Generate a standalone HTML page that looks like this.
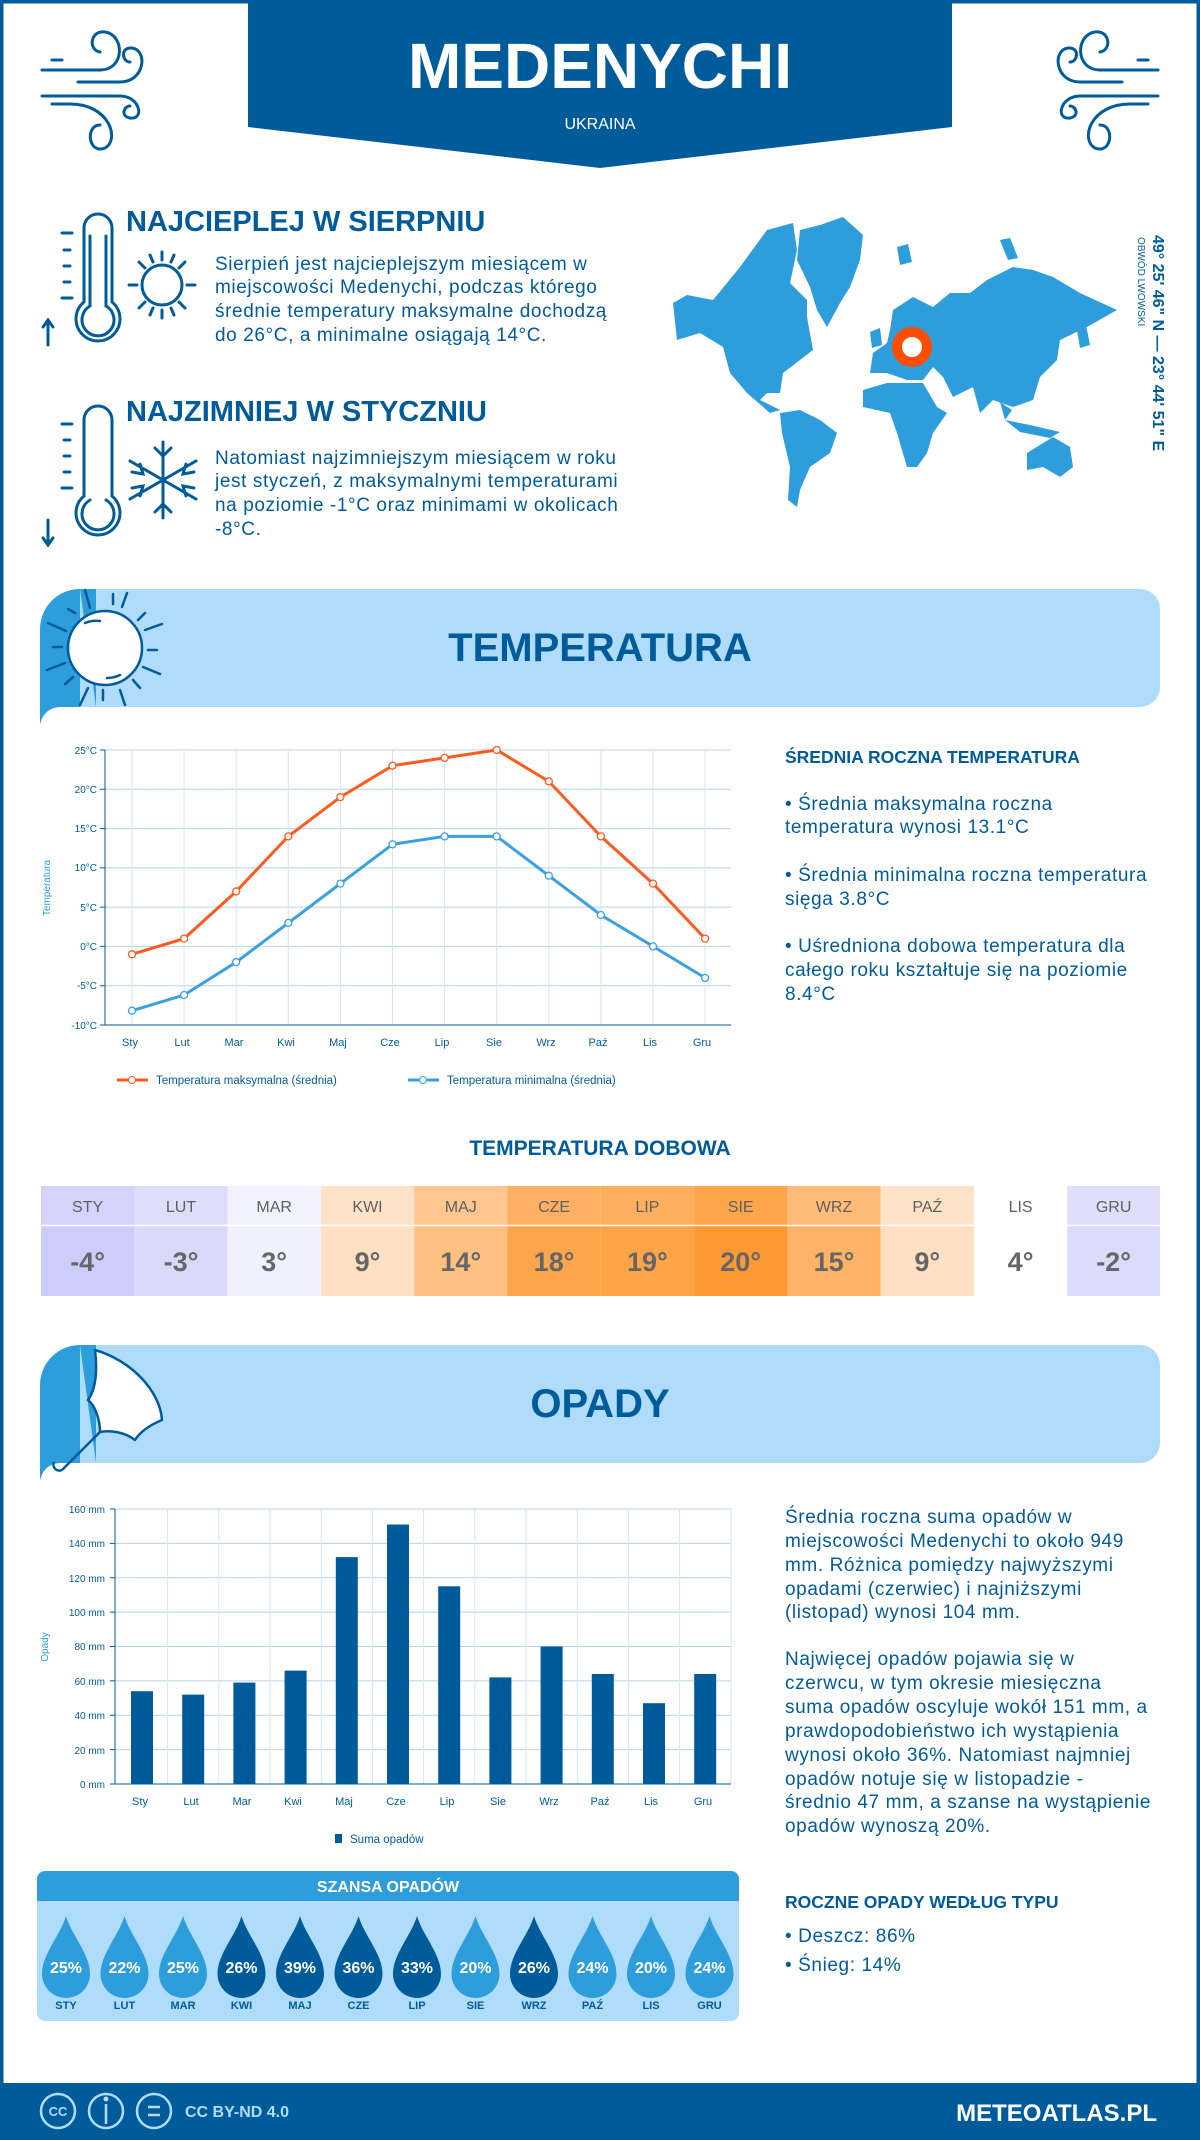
<!DOCTYPE html>
<html><head><meta charset="utf-8"><style>
html,body{margin:0;padding:0;background:#fff}
svg{display:block}
text{font-family:"Liberation Sans",sans-serif}
.p{font-size:19px;letter-spacing:0.6px}
</style></head><body>
<svg width="1200" height="2140" viewBox="0 0 1200 2140" xmlns="http://www.w3.org/2000/svg">
<rect x="1.5" y="1.5" width="1197" height="2137" fill="#fff" stroke="#005B9A" stroke-width="4"/>
<!-- header -->
<polygon points="248,0 952,0 952,127 600,168 248,127" fill="#005B9A"/>
<text x="600" y="88" text-anchor="middle" font-size="64" font-weight="bold" fill="#fff">MEDENYCHI</text>
<text x="600" y="129" text-anchor="middle" font-size="16" fill="#fff">UKRAINA</text>
<!-- wind icons -->
<g fill="none" stroke="#005B9A" stroke-width="3" stroke-linecap="round">
<g id="w">
<path d="M42,70 H100 M52,60 H62 M78,82 H120 M42,96 H120 M52,104 H70"/>
<path d="M100,70 C125,70 125,35 105,32 C90,30 88,50 100,52"/>
<path d="M120,82 C145,82 148,50 132,48 C120,47 122,62 130,62"/>
<path d="M120,96 C140,96 145,120 130,118 C120,116 124,106 130,106"/>
<path d="M70,104 C110,104 120,140 105,148 C88,155 85,125 100,125"/>
</g>
<use href="#w" transform="translate(1200,0) scale(-1,1)"/>
</g>
<!-- thermometers -->
<g fill="none" stroke="#005B9A" stroke-width="3" stroke-linecap="round">
<path d="M84,228 V302 A22,22 0 1 0 112,302 V228 A14,14 0 0 0 84,228 Z"/>
<path d="M90,236 V306 A16,16 0 1 0 106,306 V236"/>
<path d="M62,233 H72 M64,250 H70 M64,266 H70 M64,282 H70 M62,298 H72"/>
<path d="M48,345 V320 M43,327 L48,320 L53,327"/>
<circle cx="162" cy="285" r="20"/>
<path d="M162,252 V260 M162,310 V318 M129,285 H137 M187,285 H195 M139,262 L145,268 M185,262 L179,268 M139,308 L145,302 M185,308 L179,302 M150,255 L153,262 M174,255 L171,262 M150,315 L153,308 M174,315 L171,308"/>
<path d="M84,420 V496 A22,22 0 1 0 112,496 V420 A14,14 0 0 0 84,420 Z"/>
<path d="M90,500 A16,16 0 1 0 106,500"/>
<path d="M62,424 H72 M64,440 H70 M64,456 H70 M64,472 H70 M62,488 H72"/>
<path d="M48,520 V545 M43,538 L48,545 L53,538"/>
<path d="M163,442 V518 M130,461 L196,499 M130,499 L196,461 M155,448 L163,456 L171,448 M155,512 L163,504 L171,512 M132,472 L143,474 L140,464 M194,488 L183,486 L186,496 M132,488 L143,486 L140,496 M194,472 L183,474 L186,464"/>
</g>
<text x="126" y="231" font-size="29" font-weight="bold" fill="#005B9A">NAJCIEPLEJ W SIERPNIU</text>
<g class="p" fill="#005B9A">
<text x="215" y="270">Sierpień jest najcieplejszym miesiącem w</text>
<text x="215" y="293">miejscowości Medenychi, podczas którego</text>
<text x="215" y="317">średnie temperatury maksymalne dochodzą</text>
<text x="215" y="341">do 26°C, a minimalne osiągają 14°C.</text>
</g>
<text x="126" y="421" font-size="29" font-weight="bold" fill="#005B9A">NAJZIMNIEJ W STYCZNIU</text>
<g class="p" fill="#005B9A">
<text x="215" y="464">Natomiast najzimniejszym miesiącem w roku</text>
<text x="215" y="487">jest styczeń, z maksymalnymi temperaturami</text>
<text x="215" y="511">na poziomie -1°C oraz minimami w okolicach</text>
<text x="215" y="535">-8°C.</text>
</g>
<!-- map -->
<g fill="#2E9DDB">
<path d="M800,230 L820,225 L843,217 L863,235 L860,260 L850,287 L840,303 L827,327 L817,310 L810,287 L797,260 Z"/>
<path d="M673,303 L687,295 L713,300 L727,283 L740,267 L767,230 L793,223 L797,250 L790,283 L807,300 L807,317 L813,350 L800,360 L783,373 L780,393 L767,393 L760,400 L780,410 L770,413 L747,393 L730,373 L723,347 L700,333 L677,340 Z"/>
<path d="M780,413 L800,410 L820,420 L837,433 L830,453 L810,467 L800,490 L797,507 L788,500 L790,467 L782,433 Z"/>
<path d="M890,330 L893,310 L913,297 L933,307 L950,293 L970,293 L987,280 L1013,267 L1033,270 L1053,277 L1080,293 L1117,310 L1087,327 L1060,340 L1057,360 L1040,377 L1033,400 L1013,407 L993,400 L980,413 L973,387 L953,397 L943,377 L933,367 L923,380 L907,380 L887,373 L870,373 L873,353 L887,343 Z"/>
<path d="M863,390 L887,383 L923,383 L937,407 L947,413 L933,433 L927,453 L917,467 L907,467 L897,433 L890,413 L863,407 Z"/>
<path d="M1027,453 L1053,437 L1070,447 L1073,467 L1060,477 L1043,467 L1027,470 Z"/>
<path d="M1005,420 L1030,425 L1060,432 L1050,438 L1020,432 Z"/>
<path d="M1000,402 L1012,410 L1005,420 Z"/>
<path d="M870,332 L880,328 L882,345 L872,348 Z"/>
<path d="M897,247 L908,244 L912,262 L900,265 Z"/>
<path d="M1000,240 L1010,238 L1018,258 L1008,260 Z"/>
<path d="M1077,330 L1085,320 L1090,345 L1080,348 Z"/>
</g>
<circle cx="912" cy="347" r="15" fill="#fff" stroke="#FF4D00" stroke-width="10"/>
<text transform="translate(1153,235) rotate(90)" font-size="16" font-weight="bold" fill="#005B9A">49° 25' 46" N — 23° 44' 51" E</text>
<text transform="translate(1138,237) rotate(90)" font-size="10" fill="#005B9A">OBWÓD LWOWSKI</text>
<!-- temp banner -->
<path d="M80,589 H1140 A20,20 0 0 1 1160,609 V687 A20,20 0 0 1 1140,707 H80 Z" fill="#B0DCFC"/>
<path d="M80,589 H96 V707 H80 Z M80,589 A40,40 0 0 0 40,629 V724 L96,724 V707 Z" fill="#2E9DDB"/>
<path d="M96,707 H60 A20,20 0 0 0 40,727 V740 H96 Z" fill="#fff"/>
<path d="M40,724 A20,20 0 0 1 60,707 H40 Z" fill="#2E9DDB"/>
<g stroke="#005B9A" stroke-width="2.5" fill="none" stroke-linecap="round">
<circle cx="105" cy="648" r="37" fill="#fff"/>
<path d="M85,623 A30,30 0 0 1 100,621 M120,675 A30,30 0 0 1 107,678"/>
<path d="M85,590 L90,608 M113,594 V604 M127,593 L122,607 M145,613 L138,620 M145,630 L162,624 M148,650 H157 M143,667 L160,674 M133,680 L140,688 M120,690 L125,705 M103,690 V700 M88,688 L80,705 M73,677 L65,684 M65,663 L47,670 M62,647 H53 M66,631 L48,623 M75,613 L68,609"/>
</g>
<text x="600" y="661" text-anchor="middle" font-size="40" font-weight="bold" fill="#005B9A">TEMPERATURA</text>
<!-- temp chart -->
<g stroke="#B7D3E8" stroke-width="1">
<path d="M105,750 H731 M105,789.3 H731 M105,828.6 H731 M105,867.9 H731 M105,907.1 H731 M105,946.4 H731 M105,985.7 H731"/>
<path d="M132,750 V1025 M184.1,750 V1025 M236.2,750 V1025 M288.3,750 V1025 M340.4,750 V1025 M392.5,750 V1025 M444.6,750 V1025 M496.7,750 V1025 M548.8,750 V1025 M600.9,750 V1025 M653,750 V1025 M705.1,750 V1025" stroke="#D5E6F2"/>
</g>
<path d="M105,1025 H731 M105,750 V1025" stroke="#005B9A" stroke-width="1" fill="none"/>
<path d="M100,750 H105 M100,789.3 H105 M100,828.6 H105 M100,867.9 H105 M100,907.1 H105 M100,946.4 H105 M100,985.7 H105 M100,1025 H105" stroke="#005B9A"/>
<g font-size="10" fill="#005B9A" text-anchor="end">
<text x="97" y="754">25°C</text><text x="97" y="793">20°C</text><text x="97" y="832">15°C</text><text x="97" y="871">10°C</text><text x="97" y="911">5°C</text><text x="97" y="950">0°C</text><text x="97" y="989">-5°C</text><text x="97" y="1029">-10°C</text>
</g>
<text transform="translate(50,888) rotate(-90)" text-anchor="middle" font-size="10" fill="#2E9DDB">Temperatura</text>
<g font-size="11" fill="#005B9A" text-anchor="middle">
<text x="130" y="1046">Sty</text><text x="182" y="1046">Lut</text><text x="234" y="1046">Mar</text><text x="286" y="1046">Kwi</text><text x="338" y="1046">Maj</text><text x="390" y="1046">Cze</text><text x="442" y="1046">Lip</text><text x="494" y="1046">Sie</text><text x="546" y="1046">Wrz</text><text x="598" y="1046">Paź</text><text x="650" y="1046">Lis</text><text x="702" y="1046">Gru</text>
</g>
<polyline points="132,954.3 184.1,938.6 236.2,891.4 288.3,836.4 340.4,797.1 392.5,765.7 444.6,757.9 496.7,750 548.8,781.4 600.9,836.4 653,883.6 705.1,938.6" fill="none" stroke="#FF5A1F" stroke-width="3"/>
<polyline points="132,1010.7 184.1,995 236.2,962.1 288.3,922.9 340.4,883.6 392.5,844.3 444.6,836.4 496.7,836.4 548.8,875.7 600.9,915 653,946.4 705.1,977.9" fill="none" stroke="#3AA0E0" stroke-width="3"/>
<g fill="#fff" stroke="#FF5A1F" stroke-width="1.3">
<circle cx="132" cy="954.3" r="3.5"/><circle cx="184.1" cy="938.6" r="3.5"/><circle cx="236.2" cy="891.4" r="3.5"/><circle cx="288.3" cy="836.4" r="3.5"/><circle cx="340.4" cy="797.1" r="3.5"/><circle cx="392.5" cy="765.7" r="3.5"/><circle cx="444.6" cy="757.9" r="3.5"/><circle cx="496.7" cy="750" r="3.5"/><circle cx="548.8" cy="781.4" r="3.5"/><circle cx="600.9" cy="836.4" r="3.5"/><circle cx="653" cy="883.6" r="3.5"/><circle cx="705.1" cy="938.6" r="3.5"/>
</g>
<g fill="#fff" stroke="#3AA0E0" stroke-width="1.3">
<circle cx="132" cy="1010.7" r="3.5"/><circle cx="184.1" cy="995" r="3.5"/><circle cx="236.2" cy="962.1" r="3.5"/><circle cx="288.3" cy="922.9" r="3.5"/><circle cx="340.4" cy="883.6" r="3.5"/><circle cx="392.5" cy="844.3" r="3.5"/><circle cx="444.6" cy="836.4" r="3.5"/><circle cx="496.7" cy="836.4" r="3.5"/><circle cx="548.8" cy="875.7" r="3.5"/><circle cx="600.9" cy="915" r="3.5"/><circle cx="653" cy="946.4" r="3.5"/><circle cx="705.1" cy="977.9" r="3.5"/>
</g>
<path d="M117,1080 H148" stroke="#FF5A1F" stroke-width="3"/><circle cx="132" cy="1080" r="3.5" fill="#fff" stroke="#FF5A1F"/>
<text x="156" y="1084" font-size="11.5" fill="#005B9A">Temperatura maksymalna (średnia)</text>
<path d="M408,1080 H439" stroke="#3AA0E0" stroke-width="3"/><circle cx="423" cy="1080" r="3.5" fill="#fff" stroke="#3AA0E0"/>
<text x="447" y="1084" font-size="11.5" fill="#005B9A">Temperatura minimalna (średnia)</text>
<text x="785" y="763" font-size="17.5" font-weight="bold" fill="#005B9A">ŚREDNIA ROCZNA TEMPERATURA</text>
<g class="p" fill="#005B9A">
<text x="785" y="810">• Średnia maksymalna roczna</text>
<text x="785" y="833">temperatura wynosi 13.1°C</text>
<text x="785" y="881">• Średnia minimalna roczna temperatura</text>
<text x="785" y="905">sięga 3.8°C</text>
<text x="785" y="952">• Uśredniona dobowa temperatura dla</text>
<text x="785" y="976">całego roku kształtuje się na poziomie</text>
<text x="785" y="1000">8.4°C</text>
</g>
<text x="600" y="1155" text-anchor="middle" font-size="21" font-weight="bold" fill="#005B9A">TEMPERATURA DOBOWA</text>
<!-- daily table -->
<g>
<rect x="41" y="1186" width="93.3" height="110" fill="#CDCDFB"/>
<rect x="134.3" y="1186" width="93.3" height="110" fill="#D9D9FC"/>
<rect x="227.6" y="1186" width="93.3" height="110" fill="#F1F1FE"/>
<rect x="320.9" y="1186" width="93.3" height="110" fill="#FFE0C2"/>
<rect x="414.2" y="1186" width="93.3" height="110" fill="#FFC080"/>
<rect x="507.5" y="1186" width="93.3" height="110" fill="#FFA64D"/>
<rect x="600.8" y="1186" width="93.3" height="110" fill="#FFA447"/>
<rect x="694.1" y="1186" width="93.3" height="110" fill="#FF9933"/>
<rect x="787.4" y="1186" width="93.3" height="110" fill="#FFB366"/>
<rect x="880.7" y="1186" width="93.3" height="110" fill="#FFE0C2"/>
<rect x="974" y="1186" width="93.3" height="110" fill="#FFFFFF"/>
<rect x="1067.3" y="1186" width="92.7" height="110" fill="#DBDBFC"/>
<rect x="41" y="1186" width="1119" height="39" fill="#fff" opacity="0.12"/>
<path d="M41,1225.5 H1160" stroke="#fff" stroke-width="1.5"/>
</g>
<g font-size="16" fill="#5f5f5f" text-anchor="middle">
<text x="87.6" y="1212">STY</text><text x="181" y="1212">LUT</text><text x="274.2" y="1212">MAR</text><text x="367.5" y="1212">KWI</text><text x="460.8" y="1212">MAJ</text><text x="554.1" y="1212">CZE</text><text x="647.4" y="1212">LIP</text><text x="740.7" y="1212">SIE</text><text x="834" y="1212">WRZ</text><text x="927.3" y="1212">PAŹ</text><text x="1020.6" y="1212">LIS</text><text x="1113.6" y="1212">GRU</text>
</g>
<g font-size="27" font-weight="bold" fill="#666" text-anchor="middle">
<text x="87.6" y="1271">-4°</text><text x="181" y="1271">-3°</text><text x="274.2" y="1271">3°</text><text x="367.5" y="1271">9°</text><text x="460.8" y="1271">14°</text><text x="554.1" y="1271">18°</text><text x="647.4" y="1271">19°</text><text x="740.7" y="1271">20°</text><text x="834" y="1271">15°</text><text x="927.3" y="1271">9°</text><text x="1020.6" y="1271">4°</text><text x="1113.6" y="1271">-2°</text>
</g>
<!-- opady banner -->
<path d="M80,1345 H1140 A20,20 0 0 1 1160,1365 V1443 A20,20 0 0 1 1140,1463 H80 Z" fill="#B0DCFC"/>
<path d="M80,1345 H96 V1463 H80 Z M80,1345 A40,40 0 0 0 40,1385 V1480 L96,1480 V1463 Z" fill="#2E9DDB"/>
<path d="M96,1463 H60 A20,20 0 0 0 40,1483 V1496 H96 Z" fill="#fff"/>
<path d="M40,1480 A20,20 0 0 1 60,1463 H40 Z" fill="#2E9DDB"/>
<g stroke="#005B9A" stroke-width="2.5" fill="#fff" stroke-linejoin="round">
<path d="M95,1350 C130,1360 160,1390 162,1420 C150,1425 140,1432 135,1440 C125,1432 110,1430 100,1432 C100,1420 95,1405 88,1400 C95,1390 98,1375 95,1350 Z"/>
<path d="M100,1432 L62,1470 M62,1470 A6,6 0 0 1 54,1462" fill="none"/>
</g>
<text x="600" y="1417" text-anchor="middle" font-size="40" font-weight="bold" fill="#005B9A">OPADY</text>
<!-- precip chart -->
<g stroke="#B7D3E8" stroke-width="1">
<path d="M115,1509 H731 M115,1543.4 H731 M115,1577.8 H731 M115,1612.1 H731 M115,1646.5 H731 M115,1680.9 H731 M115,1715.3 H731 M115,1749.6 H731"/>
<path d="M167.6,1509 V1784 M218.8,1509 V1784 M270,1509 V1784 M321.2,1509 V1784 M372.4,1509 V1784 M423.6,1509 V1784 M474.8,1509 V1784 M526,1509 V1784 M577.2,1509 V1784 M628.4,1509 V1784 M679.6,1509 V1784 M731,1509 V1784" stroke="#D5E6F2"/>
</g>
<path d="M115,1784 H731 M115,1509 V1784" stroke="#005B9A" fill="none"/>
<path d="M110,1509 H115 M110,1543.4 H115 M110,1577.8 H115 M110,1612.1 H115 M110,1646.5 H115 M110,1680.9 H115 M110,1715.3 H115 M110,1749.6 H115 M110,1784 H115" stroke="#005B9A"/>
<g font-size="10" fill="#005B9A" text-anchor="end">
<text x="105" y="1513">160 mm</text><text x="105" y="1547">140 mm</text><text x="105" y="1582">120 mm</text><text x="105" y="1616">100 mm</text><text x="105" y="1650">80 mm</text><text x="105" y="1685">60 mm</text><text x="105" y="1719">40 mm</text><text x="105" y="1754">20 mm</text><text x="105" y="1788">0 mm</text>
</g>
<text transform="translate(48,1647) rotate(-90)" text-anchor="middle" font-size="10" fill="#2E9DDB">Opady</text>
<g fill="#005B9A">
<rect x="131" y="1691.2" width="22" height="92.8"/><rect x="182.2" y="1694.6" width="22" height="89.4"/><rect x="233.4" y="1682.6" width="22" height="101.4"/><rect x="284.6" y="1670.6" width="22" height="113.4"/><rect x="335.8" y="1557.1" width="22" height="226.9"/><rect x="387" y="1524.5" width="22" height="259.5"/><rect x="438.2" y="1586.3" width="22" height="197.7"/><rect x="489.4" y="1677.4" width="22" height="106.6"/><rect x="540.6" y="1646.5" width="22" height="137.5"/><rect x="591.8" y="1674" width="22" height="110"/><rect x="643" y="1703.2" width="22" height="80.8"/><rect x="694.2" y="1674" width="22" height="110"/>
</g>
<g font-size="11" fill="#005B9A" text-anchor="middle">
<text x="140" y="1805">Sty</text><text x="191" y="1805">Lut</text><text x="242" y="1805">Mar</text><text x="293" y="1805">Kwi</text><text x="344" y="1805">Maj</text><text x="396" y="1805">Cze</text><text x="447" y="1805">Lip</text><text x="498" y="1805">Sie</text><text x="549" y="1805">Wrz</text><text x="600" y="1805">Paź</text><text x="651" y="1805">Lis</text><text x="703" y="1805">Gru</text>
</g>
<rect x="335" y="1834" width="7" height="9" fill="#005B9A"/>
<text x="350" y="1843" font-size="11.5" fill="#005B9A">Suma opadów</text>
<g class="p" fill="#005B9A">
<text x="785" y="1523">Średnia roczna suma opadów w</text>
<text x="785" y="1547">miejscowości Medenychi to około 949</text>
<text x="785" y="1571">mm. Różnica pomiędzy najwyższymi</text>
<text x="785" y="1595">opadami (czerwiec) i najniższymi</text>
<text x="785" y="1618">(listopad) wynosi 104 mm.</text>
<text x="785" y="1665">Najwięcej opadów pojawia się w</text>
<text x="785" y="1689">czerwcu, w tym okresie miesięczna</text>
<text x="785" y="1713">suma opadów oscyluje wokół 151 mm, a</text>
<text x="785" y="1737">prawdopodobieństwo ich wystąpienia</text>
<text x="785" y="1761">wynosi około 36%. Natomiast najmniej</text>
<text x="785" y="1785">opadów notuje się w listopadzie -</text>
<text x="785" y="1808">średnio 47 mm, a szanse na wystąpienie</text>
<text x="785" y="1832">opadów wynoszą 20%.</text>
</g>
<!-- szansa -->
<rect x="37" y="1871" width="702" height="150" rx="8" fill="#B0DCFC"/>
<path d="M45,1871 H731 A8,8 0 0 1 739,1879 V1901 H37 V1879 A8,8 0 0 1 45,1871 Z" fill="#2E9DDB"/>
<text x="388" y="1892" text-anchor="middle" font-size="16" font-weight="bold" fill="#fff">SZANSA OPADÓW</text>
<defs><path id="d" d="M0,-50 C6,-30 24,-12 24,8 A24,24 0 0 1 -24,8 C-24,-12 -6,-30 0,-50 Z"/></defs>
<g>
<use href="#d" x="66" y="1966" fill="#2E9DDB"/><use href="#d" x="124.5" y="1966" fill="#2E9DDB"/><use href="#d" x="183" y="1966" fill="#2E9DDB"/><use href="#d" x="241.5" y="1966" fill="#005B9A"/><use href="#d" x="300" y="1966" fill="#005B9A"/><use href="#d" x="358.5" y="1966" fill="#005B9A"/><use href="#d" x="417" y="1966" fill="#005B9A"/><use href="#d" x="475.5" y="1966" fill="#2E9DDB"/><use href="#d" x="534" y="1966" fill="#005B9A"/><use href="#d" x="592.5" y="1966" fill="#2E9DDB"/><use href="#d" x="651" y="1966" fill="#2E9DDB"/><use href="#d" x="709.5" y="1966" fill="#2E9DDB"/>
</g>
<g font-size="16" font-weight="bold" fill="#fff" text-anchor="middle">
<text x="66" y="1973">25%</text><text x="124.5" y="1973">22%</text><text x="183" y="1973">25%</text><text x="241.5" y="1973">26%</text><text x="300" y="1973">39%</text><text x="358.5" y="1973">36%</text><text x="417" y="1973">33%</text><text x="475.5" y="1973">20%</text><text x="534" y="1973">26%</text><text x="592.5" y="1973">24%</text><text x="651" y="1973">20%</text><text x="709.5" y="1973">24%</text>
</g>
<g font-size="11" font-weight="bold" fill="#005B9A" text-anchor="middle">
<text x="66" y="2009">STY</text><text x="124.5" y="2009">LUT</text><text x="183" y="2009">MAR</text><text x="241.5" y="2009">KWI</text><text x="300" y="2009">MAJ</text><text x="358.5" y="2009">CZE</text><text x="417" y="2009">LIP</text><text x="475.5" y="2009">SIE</text><text x="534" y="2009">WRZ</text><text x="592.5" y="2009">PAŹ</text><text x="651" y="2009">LIS</text><text x="709.5" y="2009">GRU</text>
</g>
<text x="785" y="1908" font-size="17.5" font-weight="bold" fill="#005B9A">ROCZNE OPADY WEDŁUG TYPU</text>
<text x="785" y="1942" class="p" fill="#005B9A">• Deszcz: 86%</text>
<text x="785" y="1971" class="p" fill="#005B9A">• Śnieg: 14%</text>
<!-- footer -->
<rect x="0" y="2083" width="1200" height="57" fill="#005B9A"/>
<g fill="none" stroke="#B0DCFC" stroke-width="2.5">
<circle cx="58" cy="2111" r="17"/><circle cx="106" cy="2111" r="17"/><circle cx="154" cy="2111" r="17"/>
<path d="M148,2107 H160 M148,2115 H160"/>
<path d="M106,2104 V2124"/>
</g>
<circle cx="106" cy="2099" r="2.5" fill="#B0DCFC"/>
<text x="58" y="2116" text-anchor="middle" font-size="13" font-weight="bold" fill="#B0DCFC">CC</text>
<text x="185" y="2117" font-size="16" font-weight="bold" fill="#B0DCFC">CC BY-ND 4.0</text>
<text x="1157" y="2121" text-anchor="end" font-size="24" font-weight="bold" fill="#fff">METEOATLAS.PL</text>
</svg>
</body></html>
